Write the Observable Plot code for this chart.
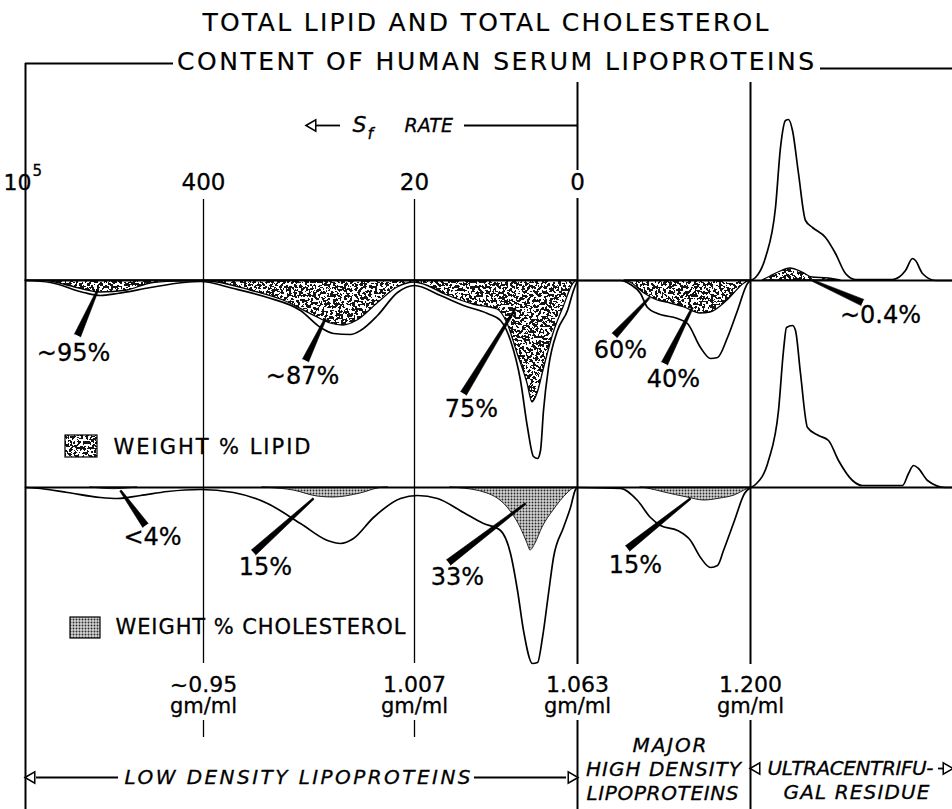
<!DOCTYPE html>
<html><head><meta charset="utf-8">
<script src="https://cdn.jsdelivr.net/npm/d3@7"></script>
<script src="https://cdn.jsdelivr.net/npm/@observablehq/plot@0.6"></script>
<style>html,body{margin:0;padding:0;background:#fff}</style>
</head><body><div id="chart"></div>
<script>
// ---------- DATA ----------
// Panel baselines (position units = picture pixels)
const upperBase = 280, lowerBase = 487;

// Divider positions and their tick labels
const dividerX = [203, 414, 577, 750];
const sfLabels = ["400", "20", "0"];
const densityLabels = ["~0.95", "1.007", "1.063", "1.200"];
const densityUnit = "gm/ml";

// Upper panel: total concentration outline, [position, depth below baseline]
const upperTotalLDL = [[25,0],[50,2],[83,12],[100,15],[117,13],[150,7],[183,2],[200,1],[233,8],[267,17],[300,30],[320,47],[333,53],[350,54],[360,50],[377,35],[397,12],[414,5],[440,15],[463,25],[487,33],[500,40],[510,60],[520,100],[527,147],[533,176],[537,178],[540,170],[543,130],[548,87],[557,50],[567,30],[573,10],[577,0]];
const upperTotalHDL = [[577,0],[620,0],[630,4],[640,13],[647,27],[657,33],[677,38],[687,43],[700,67],[710,78],[717,77],[727,57],[737,30],[747,3],[750,0]];
const upperTotalResidue = [[750,0],[755,-3],[765,-23],[775,-73],[780,-133],[785,-160],[788,-161],[792,-150],[798,-107],[805,-60],[812,-53],[825,-43],[835,-27],[845,-7],[855,-1],[892,-1],[905,-10],[912,-22],[915,-20],[922,-7],[935,0],[952,0]];
// Upper panel: weight % lipid (stippled)
const upperLipidLDL = [[25,0],[43,0],[67,5],[100,12],[127,10],[150,3],[177,1],[200,0.5],[217,2],[250,10],[283,20],[317,37],[330,43],[343,45],[357,40],[377,23],[397,7],[414,2],[420,3],[447,15],[473,24],[497,29],[507,43],[517,73],[527,103],[532,122],[537,113],[543,90],[553,53],[563,27],[573,3],[577,0]];
const upperLipidHDL = [[624,0],[630,2],[644,13],[657,20],[670,23],[684,27],[700,33],[710,32],[727,20],[744,3],[750,0]];
const upperLipidResidue = [[762,0],[770,-4],[778,-8],[790,-12],[802,-8],[812,-3],[828,-2],[840,0]];

// Lower panel: total concentration outline
const lowerTotalLDL = [[25,0],[40,1],[67,5],[100,10],[117,11],[140,8],[167,4],[200,2],[233,5],[267,16],[300,36],[327,53],[340,56],[353,51],[373,30],[400,11],[417,8],[437,11],[463,25],[483,36],[500,43],[510,66],[517,103],[523,143],[532,176],[537,175],[542,150],[548,106],[553,70],[563,40],[570,20],[575,2],[577,0]];
const lowerTotalHDL = [[577,0],[620,1],[637,13],[650,30],[660,38],[677,43],[690,53],[700,70],[710,80],[717,78],[723,63],[734,33],[744,6],[750,0]];
const lowerTotalResidue = [[750,0],[755,-3],[768,-27],[778,-77],[783,-137],[786,-160],[792,-162],[795,-157],[800,-114],[807,-60],[818,-52],[828,-47],[838,-27],[852,-7],[862,-2],[902,-2],[908,-14],[913,-22],[918,-19],[927,-7],[945,0],[952,0]];
// Lower panel: weight % cholesterol (screened)
const lowerCholA = [[90,0],[97,0.7],[113,1.7],[130,0.7],[137,0]];
const lowerCholB = [[262,0],[270,0.5],[293,3],[317,9],[333,10],[360,6],[380,0.5],[388,0]];
const lowerCholC = [[450,0],[457,0.5],[487,6],[507,20],[520,40],[527,56],[530,63],[535,56],[542,40],[553,23],[567,6],[573,1],[577,0]];
const lowerCholHDL = [[640,0],[647,1],[664,5],[687,10],[704,13],[720,11],[734,8],[744,3],[750,0]];

// Percent annotations: text, label centre, pointer foot (label end) and tip
const pctLabels = ["~95%", "~87%", "75%", "60%", "40%", "~0.4%", "<4%", "15%", "33%", "15%"];
const pctLabelPos = [[73,353],[302,376],[471,409],[620,350],[673,379],[880,315],[152,537],[265,567],[457,577],[635,565]];
const pctPointers = [[77,335,97,290],[305,360,325,318],[463,393,515,308],[614,335,649,297],[664,363,692,307],[862,302,812,280],[145,525,120,490],[253,552,313,498],[448,562,525,503],[627,548,690,498]];

// Texts
const titleLines = ["TOTAL LIPID AND TOTAL CHOLESTEROL", "CONTENT OF HUMAN SERUM LIPOPROTEINS"];
const legendLabels = ["WEIGHT % LIPID", "WEIGHT % CHOLESTEROL"];
const fractionLabels = ["LOW DENSITY LIPOPROTEINS", "MAJOR", "HIGH DENSITY", "LIPOPROTEINS", "ULTRACENTRIFU-", "GAL RESIDUE"];

// ---------- BUILD ----------
const W = 952, H = 809;
const font = "'DejaVu Sans', 'Liberation Sans', sans-serif";
const ink = {fill: "black", stroke: "black", strokeWidth: 0.3};

function series(arr, base, seg) { return arr.map(([x, d]) => ({x, y: base + d, base, seg})); }
const totals = [
  ...series(upperTotalLDL, upperBase, "u1"), ...series(upperTotalHDL, upperBase, "u2"), ...series(upperTotalResidue, upperBase, "u3"),
  ...series(lowerTotalLDL, lowerBase, "l1"), ...series(lowerTotalHDL, lowerBase, "l2"), ...series(lowerTotalResidue, lowerBase, "l3")
];
const lipid = [...series(upperLipidLDL, upperBase, "a"), ...series(upperLipidHDL, upperBase, "b"), ...series(upperLipidResidue, upperBase, "c")];
const chol = [...series(lowerCholA, lowerBase, "a"), ...series(lowerCholB, lowerBase, "b"), ...series(lowerCholC, lowerBase, "c"), ...series(lowerCholHDL, lowerBase, "d")];

// tapered pointer polygons
const pointerPts = [];
pctPointers.forEach(([fx, fy, tx, ty], i) => {
  const len = Math.hypot(tx - fx, ty - fy), nx = -(ty - fy) / len, ny = (tx - fx) / len;
  const wf = 3.4, wt = 0.9;
  [[fx + nx*wf, fy + ny*wf], [tx + nx*wt, ty + ny*wt], [tx - nx*wt, ty - ny*wt], [fx - nx*wf, fy - ny*wf]]
    .forEach(([x, y]) => pointerPts.push({x, y, id: i}));
});

// divider segments
const rules = [];
dividerX.slice(0, 2).forEach(x => { rules.push({x, y1: 199, y2: 663, w: 1.3}); rules.push({x, y1: 720, y2: 737, w: 1.3}); });
rules.push({x: dividerX[2], y1: 82, y2: 170, w: 2}, {x: dividerX[2], y1: 198, y2: 664, w: 2}, {x: dividerX[2], y1: 720, y2: 809, w: 2});
rules.push({x: dividerX[3], y1: 82, y2: 664, w: 2}, {x: dividerX[3], y1: 720, y2: 809, w: 2});
rules.push({x: 25, y1: 63, y2: 809, w: 2});

const hlines = [
  {y: upperBase, x1: 25, x2: W, w: 2.2}, {y: lowerBase, x1: 25, x2: W, w: 2.2},
  {y: 63, x1: 25, x2: 173, w: 2}, {y: 68, x1: 820, x2: W, w: 2},
  {y: 125, x1: 316, x2: 340, w: 1.8}, {y: 125, x1: 464, x2: dividerX[2], w: 1.8},
  {y: 777, x1: 36, x2: 118, w: 1.8}, {y: 777, x1: 474, x2: 566, w: 1.8},
  {y: 768, x1: 938, x2: W, w: 1.8}
];
const arrowHeads = [
  {x: 312, y: 125, r: -90}, {x: 31, y: 777, r: -90}, {x: 571, y: 777, r: 90},
  {x: 756, y: 768, r: -90}, {x: 946, y: 768, r: 90}
];

const topLabels = sfLabels.map((t, i) => ({x: dividerX[i], y: 182, t}));
const botLabels = densityLabels.map((t, i) => ({x: dividerX[i], y: 684, t}));
const botUnits = densityLabels.map((t, i) => ({x: dividerX[i], y: 706, t: densityUnit}));

const chart = Plot.plot({
  width: W, height: H, margin: 0,
  x: {domain: [0, W], range: [0, W], axis: null},
  y: {domain: [0, H], range: [0, H], axis: null},
  style: {fontFamily: font, background: "white", color: "black"},
  marks: [
    Plot.areaY(lipid, {x: "x", y1: "base", y2: "y", z: "seg", fill: "url(#lipidStipple)", stroke: "black", strokeWidth: 1.3, curve: "monotone-x"}),
    Plot.areaY(chol, {x: "x", y1: "base", y2: "y", z: "seg", fill: "url(#cholScreen)", stroke: "#222", strokeWidth: 1, curve: "monotone-x"}),
    Plot.line(totals, {x: "x", y: "y", z: "seg", stroke: "black", strokeWidth: 1.7, curve: "monotone-x"}),
    Plot.ruleX(rules, {x: "x", y1: "y1", y2: "y2", strokeWidth: "w", stroke: "black"}),
    Plot.ruleY(hlines, {y: "y", x1: "x1", x2: "x2", strokeWidth: "w", stroke: "black"}),
    Plot.dot(arrowHeads, {x: "x", y: "y", rotate: "r", symbol: "triangle", r: 4.2, fill: "white", stroke: "black", strokeWidth: 1.5}),
    Plot.line(pointerPts, {x: "x", y: "y", z: "id", fill: "black", stroke: "black", strokeWidth: 0.6}),
    // legend swatches
    Plot.rect([{x1: 65, x2: 97, y1: 435, y2: 457}], {x1: "x1", x2: "x2", y1: "y1", y2: "y2", fill: "url(#lipidStipple)", stroke: "black", strokeWidth: 1.2}),
    Plot.rect([{x1: 70, x2: 100, y1: 617, y2: 638}], {x1: "x1", x2: "x2", y1: "y1", y2: "y2", fill: "url(#cholScreen)", stroke: "black", strokeWidth: 1.2}),
    Plot.text([legendLabels[0]], {x: 113, y: 447, text: d => d, textAnchor: "start", fontSize: 21, ...ink}),
    Plot.text([legendLabels[1]], {x: 115, y: 627, text: d => d, textAnchor: "start", fontSize: 21, ...ink}),
    // title
    Plot.text([titleLines[0]], {x: 485, y: 22.5, text: d => d, fontSize: 25, fill: "black", stroke: "black", strokeWidth: 0.2}),
    Plot.text([titleLines[1]], {x: 495, y: 61.5, text: d => d, fontSize: 25, fill: "black", stroke: "black", strokeWidth: 0.2}),
    // Sf rate
    Plot.text(["S"], {x: 352, y: 124, text: d => d, textAnchor: "start", fontSize: 22, fontStyle: "italic", ...ink}),
    Plot.text(["f"], {x: 367, y: 133, text: d => d, textAnchor: "start", fontSize: 16, fontStyle: "italic", ...ink}),
    Plot.text(["RATE"], {x: 404, y: 125, text: d => d, textAnchor: "start", fontSize: 19, fontStyle: "italic", ...ink}),
    // top axis labels
    Plot.text(["10"], {x: 3, y: 182, text: d => d, textAnchor: "start", fontSize: 22, ...ink}),
    Plot.text(["5"], {x: 32, y: 171, text: d => d, textAnchor: "start", fontSize: 15, ...ink}),
    Plot.text(topLabels, {x: "x", y: "y", text: "t", fontSize: 23, ...ink}),
    Plot.text(botLabels, {x: "x", y: "y", text: "t", fontSize: 22, ...ink}),
    Plot.text(botUnits, {x: "x", y: "y", text: "t", fontSize: 21, ...ink}),
    // percentages
    Plot.text(pctLabels.map((t, i) => ({t, x: pctLabelPos[i][0], y: pctLabelPos[i][1]})), {x: "x", y: "y", text: "t", fontSize: 24, ...ink}),
    // fraction names
    Plot.text([fractionLabels[0]], {x: 124, y: 777, text: d => d, textAnchor: "start", fontSize: 20, fontStyle: "italic", ...ink}),
    Plot.text([fractionLabels[1]], {x: 669, y: 745, text: d => d, fontSize: 20, fontStyle: "italic", ...ink}),
    Plot.text([fractionLabels[2]], {x: 663, y: 769, text: d => d, fontSize: 20, fontStyle: "italic", ...ink}),
    Plot.text([fractionLabels[3]], {x: 662, y: 793, text: d => d, fontSize: 20, fontStyle: "italic", ...ink}),
    Plot.text([fractionLabels[4]], {x: 767, y: 768, text: d => d, textAnchor: "start", fontSize: 20, fontStyle: "italic", ...ink}),
    Plot.text([fractionLabels[5]], {x: 856, y: 792, text: d => d, fontSize: 20, fontStyle: "italic", ...ink})
  ]
});

// ---------- textures & text widths ----------
const svg = d3.select(chart);
const defs = svg.insert("defs", ":first-child");
const flt = defs.append("filter").attr("id", "speck").attr("filterUnits", "userSpaceOnUse")
  .attr("x", 0).attr("y", 0).attr("width", W).attr("height", H);
flt.append("feTurbulence").attr("type", "fractalNoise").attr("baseFrequency", "0.36").attr("numOctaves", 2).attr("seed", 7).attr("result", "n");
flt.append("feColorMatrix").attr("in", "n").attr("type", "matrix").attr("values", "0 0 0 0 1 0 0 0 0 1 0 0 0 0 1 1 0 0 0 0").attr("result", "a");
flt.append("feComponentTransfer").attr("in", "a").append("feFuncA").attr("type", "discrete")
  .attr("tableValues", "0 0 0 0 0 0 0 0 0 0 1 1 1 1 1 1 1 1 1 1");
const pat = defs.append("pattern").attr("id", "lipidStipple").attr("patternUnits", "userSpaceOnUse").attr("width", W).attr("height", H);
pat.append("rect").attr("width", W).attr("height", H).attr("fill", "#151515");
pat.append("rect").attr("width", W).attr("height", H).attr("fill", "white").attr("filter", "url(#speck)");
const cp = defs.append("pattern").attr("id", "cholScreen").attr("patternUnits", "userSpaceOnUse").attr("width", 3).attr("height", 3);
cp.append("rect").attr("width", 3).attr("height", 3).attr("fill", "#d4d4d4");
cp.append("circle").attr("cx", 1.5).attr("cy", 1.5).attr("r", 0.95).attr("fill", "#2a2a2a");

const textWidths = {
  "TOTAL LIPID AND TOTAL CHOLESTEROL": 566, "CONTENT OF HUMAN SERUM LIPOPROTEINS": 637,
  "LOW DENSITY LIPOPROTEINS": 346, "ULTRACENTRIFU-": 166, "GAL RESIDUE": 146,
  "HIGH DENSITY": 155, "LIPOPROTEINS": 152, "MAJOR": 74,
  "WEIGHT % LIPID": 197, "WEIGHT % CHOLESTEROL": 290
};
svg.selectAll("text").each(function () {
  const w = textWidths[this.textContent];
  if (w) { this.setAttribute("textLength", w); this.setAttribute("lengthAdjust", "spacing"); }
});

document.getElementById("chart").append(chart);
</script></body></html>
